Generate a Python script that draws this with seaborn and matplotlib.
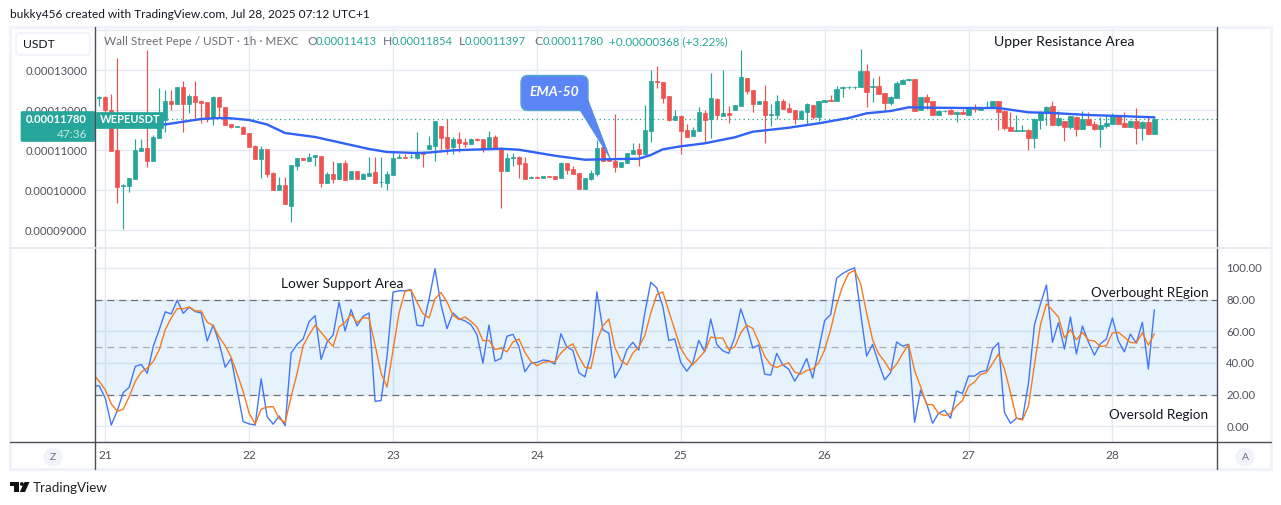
import matplotlib
matplotlib.use("Agg")
import matplotlib.pyplot as plt
import numpy as np
import pandas as pd
import seaborn as sns
from matplotlib.patches import Circle, FancyBboxPatch, Polygon, Rectangle
from matplotlib.ticker import FixedLocator, FuncFormatter

# Hourly WEPE/USDT candles, prices in units of 1e-8 USDT
OPENS = [12300,12325,12008,11008,10108,10115,10290,10990,11058,10740,11315,11758,12233,12165,12583,12165,12358,12233,12208,11808,
12333,12083,11658,11590,11590,11440,11115,10783,11033,10433,10008,10133,9608,10608,10808,10733,10833,10858,10183,10408,
10283,10683,10283,10483,10283,10358,10458,10208,10183,10383,10808,10833,10825,10808,10933,11033,11108,11608,11333,11083,
11283,11208,11158,11283,11283,11033,11333,11058,10483,10808,10833,10683,10320,10333,10308,10358,10358,10308,10683,10533,
10433,10033,10283,10408,11083,10783,10733,10583,10683,10908,11033,10908,11483,12733,12708,12358,11758,11858,11508,11358,
11483,11933,11775,12283,11858,11933,12008,12108,12808,12508,12158,12233,11883,11883,12233,12058,12008,11783,11958,12133,
11833,12208,12258,12233,12558,12575,12575,12590,12983,12590,12608,12433,12183,12308,12658,12750,12783,12008,12333,12233,
11883,11983,12008,11908,11958,11883,12058,12008,12058,12058,12233,11983,11583,11490,11490,11508,11308,11758,11958,12108,
11633,11733,11583,11833,11533,11783,11658,11533,11608,11658,11858,11683,11583,11733,11558,11708,11413]
CLOSES = [12325,12008,10990,10090,10145,10308,11008,11058,10740,11333,11883,12233,12158,12583,12165,12358,12208,12175,11808,12333,
12083,11633,11575,11608,11408,11083,10783,11033,10408,10008,10133,9658,10633,10808,10758,10833,10883,10183,10408,10283,
10683,10258,10483,10283,10408,10433,10183,10220,10408,10808,10833,10808,10840,10933,10908,11133,11733,11308,11058,11283,
11183,11158,11283,11258,11033,11333,11033,10483,10808,10833,10658,10283,10333,10320,10358,10340,10283,10683,10508,10408,
10033,10308,10433,11058,10733,10733,10583,10708,10933,11008,10908,11508,12733,12708,12308,11758,11858,11483,11333,11508,
11958,11758,12308,11883,11933,11883,12133,12833,12483,12158,12233,11883,11908,12233,12033,11958,11783,11983,12158,11833,
12233,12258,12233,12533,12583,12583,12590,12983,12458,12600,12408,12183,12333,12683,12758,12775,11983,12333,12208,11883,
11983,11995,11908,11958,11908,12058,12033,12058,12075,12233,11958,11558,11483,11508,11508,11308,11783,11958,12083,11633,
11808,11583,11858,11533,11783,11633,11533,11633,11683,11858,11658,11583,11733,11558,11708,11408,11780]
HIGHS = [12358,12358,12408,13308,10170,10308,11283,11283,13508,11383,12558,12508,12508,12583,12733,12408,12733,12258,12208,12358,
12333,12083,11658,11615,11608,11440,11133,11108,11033,10450,10333,10333,10633,10808,10808,10933,10883,10858,10458,10733,
10683,10758,10483,10483,10433,10833,10833,10833,10483,10958,10908,10908,10908,11458,10958,11358,11733,11608,11775,11333,
11458,11308,11308,11308,11283,11483,11383,11083,10933,10933,10858,10833,10358,10358,10358,10358,10358,10708,10683,10608,
10433,10308,10508,11258,11083,10858,11908,10708,10933,11183,11183,12133,13008,13108,12708,12358,12008,11883,11658,11583,
12083,12008,12933,12308,13008,12108,12133,13508,12808,12508,12233,12633,12158,12383,12283,12183,12008,12008,12183,12133,
12233,12258,12383,12608,12608,12608,12608,13533,13158,12808,12858,12433,12358,12733,12783,12783,12783,12333,12408,12233,
12008,12008,12033,11983,12033,12058,12158,12058,12233,12233,12233,12008,11958,11883,11633,11533,11808,11983,12108,12233,
11983,11733,11858,11858,11983,11958,11733,11833,11858,11933,11858,11958,11758,12058,11733,11858,11854]
LOWS = [12108,11958,10983,9675,9033,9965,10290,10990,10590,10740,11308,11465,12008,12165,11465,11933,11758,11683,11715,11633,
11808,11633,11558,11575,11408,11083,10783,10308,10340,10008,10008,9658,9208,10508,10758,10733,10608,10083,10183,10183,
10283,10258,10283,10283,10283,10358,10183,10083,10008,10383,10808,10808,10808,10783,10583,11033,10740,11008,10908,10908,
10958,11083,11158,11233,10958,11033,11033,9558,10483,10608,10308,10283,10308,10308,10308,10333,10283,10308,10408,10408,
10033,10033,10258,10358,10733,10733,10458,10583,10683,10908,10608,10908,11208,12558,12183,11733,11758,10908,11333,11358,
11483,11208,11308,11775,11858,11683,12008,12108,12408,11958,12158,11183,11608,11783,12033,11958,11658,11783,11658,11783,
11733,12208,12233,12233,12333,12533,12533,12583,12083,12208,12408,11983,12133,12308,12658,12740,11983,12008,12033,11883,
11883,11958,11908,11708,11908,11883,11958,12008,12058,12058,11508,11508,11483,11483,11483,11008,11058,11533,11633,11633,
11608,11233,11533,11358,11533,11633,11508,11083,11558,11658,11658,11583,11583,11158,11258,11408,11397]

# EMA-50 readings: bar index and price
EMA_BARS = [0,10,14,17,20,22,25,28,31,36,39,45,48,53,55,59,67,70,76,81,87,90,92,94,97,101,106,109,115,120,125,128,132,135,139,145,150,155,159,165,170,176]
EMA_VALUES = [11645,11625,11715,11783,11808,11800,11758,11645,11433,11333,11233,11033,10958,10933,10945,11000,11040,11015,10865,10765,10783,10790,10883,11025,11100,11175,11325,11465,11565,11675,11808,11925,11983,12075,12065,12058,12058,11950,11933,11883,11858,11825]

# Stochastic RSI, starting one bar before the first candle
STOCH_K = [25.5,25.5,17.7,0.8,9.9,21.3,24.7,37.8,39.0,33.5,50.4,61.0,72.2,70.9,79.5,71.3,75.1,72.4,71.5,53.8,63.9,52.5,37.3,42.8,23.0,3.0,1.5,0.8,30.0,6.1,
1.3,6.5,0.4,46.2,51.7,55.1,66.0,69.8,42.2,53.2,57.6,78.3,60.1,73.6,63.3,69.4,71.5,15.8,16.2,44.1,84.6,85.5,85.5,86.3,63.7,63.3,80.0,99.4,76.8,61.6,
71.5,67.9,66.5,64.1,57.8,39.9,63.9,41.1,42.8,56.8,58.0,50.4,34.4,39.9,40.3,41.8,41.4,39.2,58.4,50.0,47.9,33.8,31.2,45.1,84.8,61.0,58.7,30.6,37.3,48.3,
53.0,48.1,71.5,90.9,87.3,75.7,54.2,55.1,40.3,34.8,39.9,54.2,47.0,67.7,51.7,47.7,46.0,56.1,74.1,63.1,49.4,51.3,32.9,32.3,46.0,38.8,36.1,28.5,34.6,42.8,
30.4,48.3,66.7,70.5,93.5,96.4,98.5,100.0,71.5,44.3,51.7,39.9,29.3,33.8,53.2,50.6,51.7,2.5,22.8,14.6,1.9,8.2,10.1,5.1,22.2,20.7,31.7,31.7,34.4,35.2,
48.7,52.7,8.7,1.9,5.1,4.6,27.2,64.1,77.2,89.2,53.0,65.4,48.7,69.0,45.6,63.3,53.2,44.9,52.1,55.1,68.4,53.8,47.0,58.2,52.5,65.6,36.1,73.6]
STOCH_D = [32.9,28.3,23.0,14.1,9.5,10.8,18.8,28.3,34.2,36.7,40.9,48.3,61.0,68.4,74.3,74.1,75.3,72.8,72.8,65.6,63.5,56.3,50.8,43.5,33.1,21.9,8.2,1.5,10.8,12.2,
12.4,4.9,2.3,18.8,33.5,50.8,57.8,63.7,59.3,54.6,50.4,62.7,65.6,70.7,65.4,68.6,68.1,51.5,33.5,24.7,48.3,71.5,85.2,85.9,78.3,71.1,68.4,80.4,84.4,78.5,
70.0,67.3,69.0,66.2,62.7,54.0,54.2,48.5,49.2,47.0,53.2,55.1,46.6,40.9,38.2,40.3,40.9,40.7,46.2,49.8,52.1,43.9,37.3,36.5,53.8,63.3,67.7,49.8,41.6,38.8,
46.2,50.0,57.2,71.5,83.1,84.8,72.6,61.0,49.2,43.0,38.8,43.0,47.3,56.3,55.7,55.7,48.3,50.0,58.9,63.9,61.8,53.2,44.1,38.8,37.1,38.8,40.1,34.2,32.9,35.2,
36.1,39.9,48.3,61.0,76.8,88.4,96.4,98.5,89.9,71.5,54.6,45.8,40.9,34.8,39.2,45.8,51.7,35.2,25.1,13.7,13.7,8.2,6.8,8.0,12.9,16.2,25.3,27.9,32.7,33.8,
39.5,45.6,36.1,21.3,5.1,4.0,12.9,38.8,64.1,77.2,73.2,69.0,55.7,61.0,54.6,59.3,54.4,53.8,50.4,50.8,58.9,59.3,56.3,52.9,52.7,59.0,51.2,58.4]

DAY_LABELS = ["21", "22", "23", "24", "25", "26", "27", "28"]
PRICE_TICKS = [14000, 13000, 12000, 11000, 10000, 9000]
OSC_TICKS = [100, 80, 60, 40, 20, 0]

GREEN, RED = "#26a69a", "#ef5350"
GRID, INK, MUTED = "#e3eaf2", "#131722", "#50535e"
FONT = "Lato"

sns.set_theme(style="white", rc={"figure.facecolor": "white", "axes.facecolor": "none"})
plt.rcParams["font.family"] = [FONT, "DejaVu Sans"]

W, H = 1281, 505
LEFT, RIGHT, TOP, SPLIT, BOTTOM = 95.3, 1217.3, 27.5, 248.0, 442.3
fig = plt.figure(figsize=(W / 100, H / 100), dpi=100)


def pane(top, bottom):
    return fig.add_axes([LEFT / W, 1 - bottom / H, (RIGHT - LEFT) / W, (bottom - top) / H])


price_ax = pane(TOP, SPLIT)
osc_ax = pane(SPLIT, BOTTOM)

bars = np.arange(len(OPENS))
candles = pd.DataFrame({"bar": bars, "open": OPENS, "high": HIGHS, "low": LOWS, "close": CLOSES})
candles["colour"] = np.where(candles["close"] >= candles["open"], GREEN, RED)
day_bars = [1 + 24 * n for n in range(len(DAY_LABELS))]
xlim = (-0.667, 186.5)

# Price pane
price_ax.vlines(candles["bar"], candles["low"], candles["high"], colors=candles["colour"], lw=0.85, zorder=3)
price_ax.bar(candles["bar"], (candles["close"] - candles["open"]).abs(),
             bottom=candles[["open", "close"]].min(axis=1), width=0.72,
             color=candles["colour"], edgecolor=candles["colour"], linewidth=0.5, zorder=4)
sns.lineplot(x=EMA_BARS, y=EMA_VALUES, ax=price_ax, color="#2f62f5", lw=1.7, zorder=5,
             estimator=None, sort=False)
price_ax.axhline(CLOSES[-1], color=GREEN, lw=0.9, ls=(0, (1, 2.6)), zorder=2)
price_ax.set(xlim=xlim, ylim=(14758 - 25 * SPLIT, 14758 - 25 * TOP))
price_ax.yaxis.set_major_locator(FixedLocator(PRICE_TICKS))
price_ax.yaxis.set_major_formatter(FuncFormatter(
    lambda v, _: "" if v > 13500 else f"{v * 1e-8:.8f}"))
price_ax.set_xticks(day_bars)
price_ax.tick_params(axis="x", length=0, labelbottom=False)
price_ax.tick_params(axis="y", length=0, pad=5.8, labelsize=8.15, labelcolor=MUTED)

# Oscillator pane
osc_ax.axhspan(20, 80, color="#2196f3", alpha=0.11, lw=0, zorder=1)
for level, colour in [(80, "#6e717c"), (50, "#a9acb5"), (20, "#6e717c")]:
    osc_ax.axhline(level, color=colour, lw=0.9, ls=(0, (5.5, 4)), zorder=2)
osc_bars = np.arange(-1, len(STOCH_K) - 1)
sns.lineplot(x=osc_bars, y=STOCH_K, ax=osc_ax, color="#4477f5", lw=1.0, zorder=4, estimator=None, sort=False)
sns.lineplot(x=osc_bars, y=STOCH_D, ax=osc_ax, color="#f47b20", lw=1.0, zorder=5, estimator=None, sort=False)
osc_ax.set(xlim=xlim, ylim=(-10.1, 112.5))
osc_ax.set_yticks(OSC_TICKS, [f"{v:.2f}" for v in OSC_TICKS])
osc_ax.yaxis.tick_right()
osc_ax.set_xticks(day_bars, DAY_LABELS)
osc_ax.tick_params(axis="x", length=0, pad=5.5, labelsize=8.6, labelcolor=MUTED)
osc_ax.tick_params(axis="y", length=0, pad=6.5, labelsize=8.2, labelcolor=MUTED)

for ax in (price_ax, osc_ax):
    ax.set_axisbelow(True)
    ax.grid(True, color=GRID, lw=0.95, zorder=0)
    ax.set_xlabel("")
    ax.set_ylabel("")
    for spine in ax.spines.values():
        spine.set_visible(False)

# Page-level layer in pixel coordinates: frame, price tag, notes and buttons
top = fig.add_axes([0, 0, 1, 1], zorder=10)
top.set(xlim=(0, W), ylim=(H, 0))
top.axis("off")
top.patch.set_alpha(0)

top.add_patch(Rectangle((10, 27), 1261, 442, fill=False, ec="#f0f3fa", lw=2.2))
top.plot([LEFT, LEFT], [27, 469], color="#4a4d58", lw=1.0)
top.plot([RIGHT, RIGHT], [27, 469], color="#4a4d58", lw=1.0)
top.plot([10, 1271], [BOTTOM, BOTTOM], color="#4a4d58", lw=1.0)
top.plot([10, 1271], [SPLIT, SPLIT], color="#e3e6ee", lw=1.2)


def label(x, y, text, size=8.7, color=INK, ha="left", **kw):
    top.text(x, y, text, fontsize=size, color=color, ha=ha, va="center", **kw)


label(10, 15, "bukky456 created with TradingView.com, Jul 28, 2025 07:12 UTC+1", size=8.55)
label(104, 41.5, "Wall Street Pepe / USDT · 1h · MEXC", color="#6a6d78", size=8.5)
for x, name, value in [(307, "O", "0.00011413"), (383, "H", "0.00011854"),
                       (459, "L", "0.00011397"), (534, "C", "0.00011780")]:
    label(x, 41.5, name, color="#6a6d78")
    label(x + 9 if name != "L" else x + 6, 41.5, value, color=GREEN, size=8.0)
label(609, 41.5, "+0.00000368 (+3.22%)", color=GREEN, size=8.4)

top.add_patch(FancyBboxPatch((16, 33), 74, 22, boxstyle="round,pad=0,rounding_size=3",
                             fc="white", ec="#f0f3fa", lw=1.3))
label(23, 44.5, "USDT", color=INK)

label(994, 42, "Upper Resistance Area", size=10.05)
label(281, 284.5, "Lower Support Area", size=9.95)
label(1208.5, 293, "Overbought REgion", size=9.75, ha="right")
label(1208.5, 415, "Oversold Region", size=9.75, ha="right")

# Last-price tags
top.add_patch(FancyBboxPatch((21, 111.5), 74, 30, boxstyle="round,pad=0,rounding_size=1.5", fc=GREEN, ec=GREEN, lw=0.5))
top.add_patch(Rectangle((96, 111.5), 66.5, 16, fc=GREEN, ec=GREEN, lw=0.5))
label(87, 119.5, "0.00011780", color="white", ha="right", fontweight="bold", size=8.05)
label(87, 134, "47:36", color="#c4e8e4", ha="right", size=8.6)
label(100, 119.5, "WEPEUSDT", color="white", fontweight="bold", size=8.0)

# EMA-50 callout
callout = "#5b84f6"
top.add_patch(FancyBboxPatch((521, 75.5), 67, 35, boxstyle="round,pad=0,rounding_size=7",
                             fc=callout, ec="#55a8c8", lw=1.0))
top.add_patch(Polygon([(580, 110), (588, 100), (610, 158)], closed=True, fc=callout, ec="#4a8fd8", lw=0.6))
top.add_patch(Rectangle((578, 104), 9.5, 6, fc=callout, ec="none"))
label(554.5, 92, "EMA-50", color="white", ha="center", size=10, fontstyle="italic", fontweight="bold")

# Scale buttons
for cx, letter in [(53, "Z"), (1245, "A")]:
    top.add_patch(Circle((cx, 457), 9.5, fc="#f0f3fa", ec="none"))
    label(cx, 457.5, letter, size=7.5, ha="center", color="#6a6d78")

# Footer wordmark
top.add_patch(Polygon([(10, 482), (19, 482), (19, 492), (14, 492), (14, 486), (10, 486)], fc="#111111", ec="none"))
top.add_patch(Circle((21.9, 484), 1.9, fc="#111111", ec="none"))
top.add_patch(Polygon([(24.5, 482), (29.5, 482), (25, 492), (19.8, 492)], fc="#111111", ec="none"))
label(33, 487.5, "TradingView", size=9.6, color="#222222")

fig.savefig("out.png", dpi=100)
